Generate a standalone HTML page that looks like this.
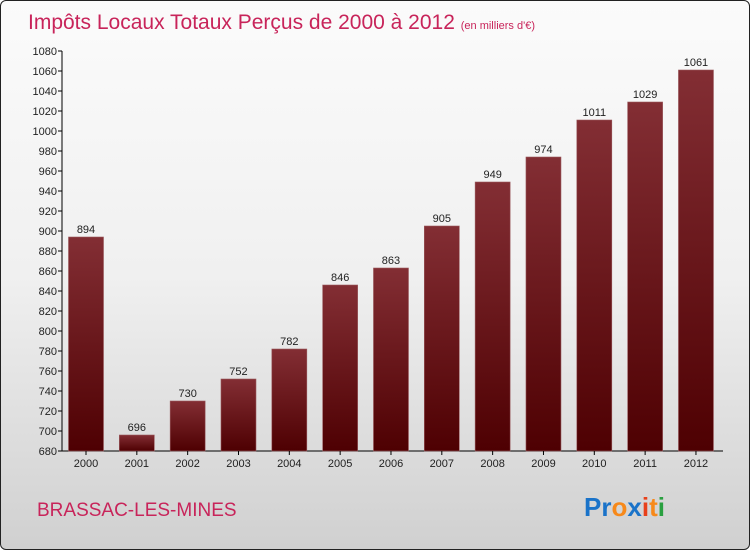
<!DOCTYPE html>
<html><head><meta charset="utf-8"><style>
body{margin:0;width:750px;height:550px;overflow:hidden;font-family:"Liberation Sans",sans-serif}
#c{position:absolute;left:0;top:0;width:748px;height:548px;border:1px solid #222;border-radius:6px;background:linear-gradient(#fbfbfb,#f0f0f0 50%,#d0d0d0)}
</style></head><body>
<div id="c">
<svg width="750" height="550">
<defs><linearGradient id="bg" x1="0" y1="0" x2="0" y2="1"><stop offset="0" stop-color="#832e34"/><stop offset="1" stop-color="#4e0002"/></linearGradient></defs>
<text x="27" y="28" font-size="21" fill="#c8245a">Impôts Locaux Totaux Perçus de 2000 à 2012 <tspan font-size="11">(en milliers d'€)</tspan></text>
<text x="36" y="515" font-size="19" fill="#c8245a">BRASSAC-LES-MINES</text>
<text x="583" y="515" font-size="26" font-weight="bold"><tspan fill="#1a73c9">Pr</tspan><tspan fill="#f7891a">o</tspan><tspan fill="#1a73c9">x</tspan><tspan fill="#e8401a">i</tspan><tspan fill="#f7891a">t</tspan><tspan fill="#2aa040">i</tspan></text>
<g id="g"></g>
</svg></div>
<script>
const years=["2000","2001","2002","2003","2004","2005","2006","2007","2008","2009","2010","2011","2012"];
const values=[894,696,730,752,782,846,863,905,949,974,1011,1029,1061];
const ticks=[680,700,720,740,760,780,800,820,840,860,880,900,920,940,960,980,1000,1020,1040,1060,1080];
const NS="http://www.w3.org/2000/svg",g=document.getElementById('g');
const y=v=>450-(v-680)*1, x=i=>85+i*50.83;
function mk(t,a,txt){const e=document.createElementNS(NS,t);for(const k in a)e.setAttribute(k,a[k]);if(txt!=null)e.textContent=txt;g.appendChild(e);return e;}
let ax=mk('line',{x1:61,y1:50,x2:61,y2:450,stroke:'#000'});


let bx=mk('line',{x1:61,y1:450,x2:722,y2:450,stroke:'#000'});


ticks.forEach(t=>{
 let l=mk('line',{x1:57,y1:y(t),x2:61,y2:y(t),stroke:'#000'});
 
 
 let tx=mk('text',{x:56,y:y(t)+4,'font-size':11,'text-anchor':'end',fill:'#222'},t);
 
 
});
years.forEach((yr,i)=>{
 const cx=x(i),v=values[i];
 let r=mk('rect',{x:cx-17.5,y:y(v),width:35,height:450-y(v),fill:'url(#bg)',stroke:'#9a5a5e','stroke-width':0.6});
 
 
 let vl=mk('text',{x:cx,y:y(v)-4,'font-size':11,'text-anchor':'middle',fill:'#222'},v);
 
 
 let tk=mk('line',{x1:cx,y1:450,x2:cx,y2:454,stroke:'#000'});
 
 
 let xl=mk('text',{x:cx,y:466,'font-size':11,'text-anchor':'middle',fill:'#222'},yr);
 
 
});
</script>
</body></html>
